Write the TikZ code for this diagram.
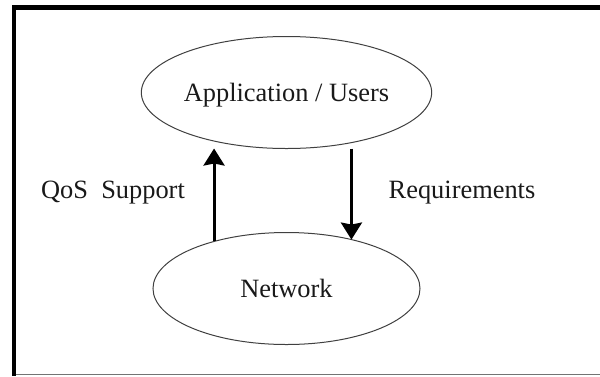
\documentclass[tikz,border=0pt]{standalone}
\usepackage{fontspec}
\setmainfont{Liberation Serif}
\usetikzlibrary{shapes.geometric,arrows.meta}

\begin{document}
\begin{tikzpicture}[x=1pt,y=-1pt,
  every node/.style={font=\fontsize{26.4}{30}\selectfont, text=black!90},
  layer/.style={ellipse, draw=black!75, line width=1pt, inner sep=0pt, outer sep=0pt,
    minimum width=267pt, minimum height=112pt, text height=17.5pt, text depth=0pt},
  caption/.style={anchor=base, inner sep=0pt},
  flow/.style={line width=3pt, -{Stealth[length=17pt, width=21pt, inset=2pt]}},
  frameline/.style={line width=4.5pt, black}
]
\useasboundingbox (0,0) rectangle (600,376);

% frame around the figure
\draw[frameline] (600,7.5) -- (14,7.5) -- (14,376);
\draw[black!55, line width=1.5pt] (16,374.5) -- (600,374.5);

% the two layers
\node[layer] (app) at (286.5,92.5) {Application / Users};
\node[layer] (net) at (286.5,288.5) {Network};

% interactions between the layers
\draw[flow] (net.147) -- (net.147 |- app.south);
\draw[flow] (app.south -| net.37) -- (net.37);

% labels of the interactions
\node[caption] (qos) at (113,198) {QoS~ Support};
\node[caption] (req) at (462,198) {Requirements};
\end{tikzpicture}
\end{document}
